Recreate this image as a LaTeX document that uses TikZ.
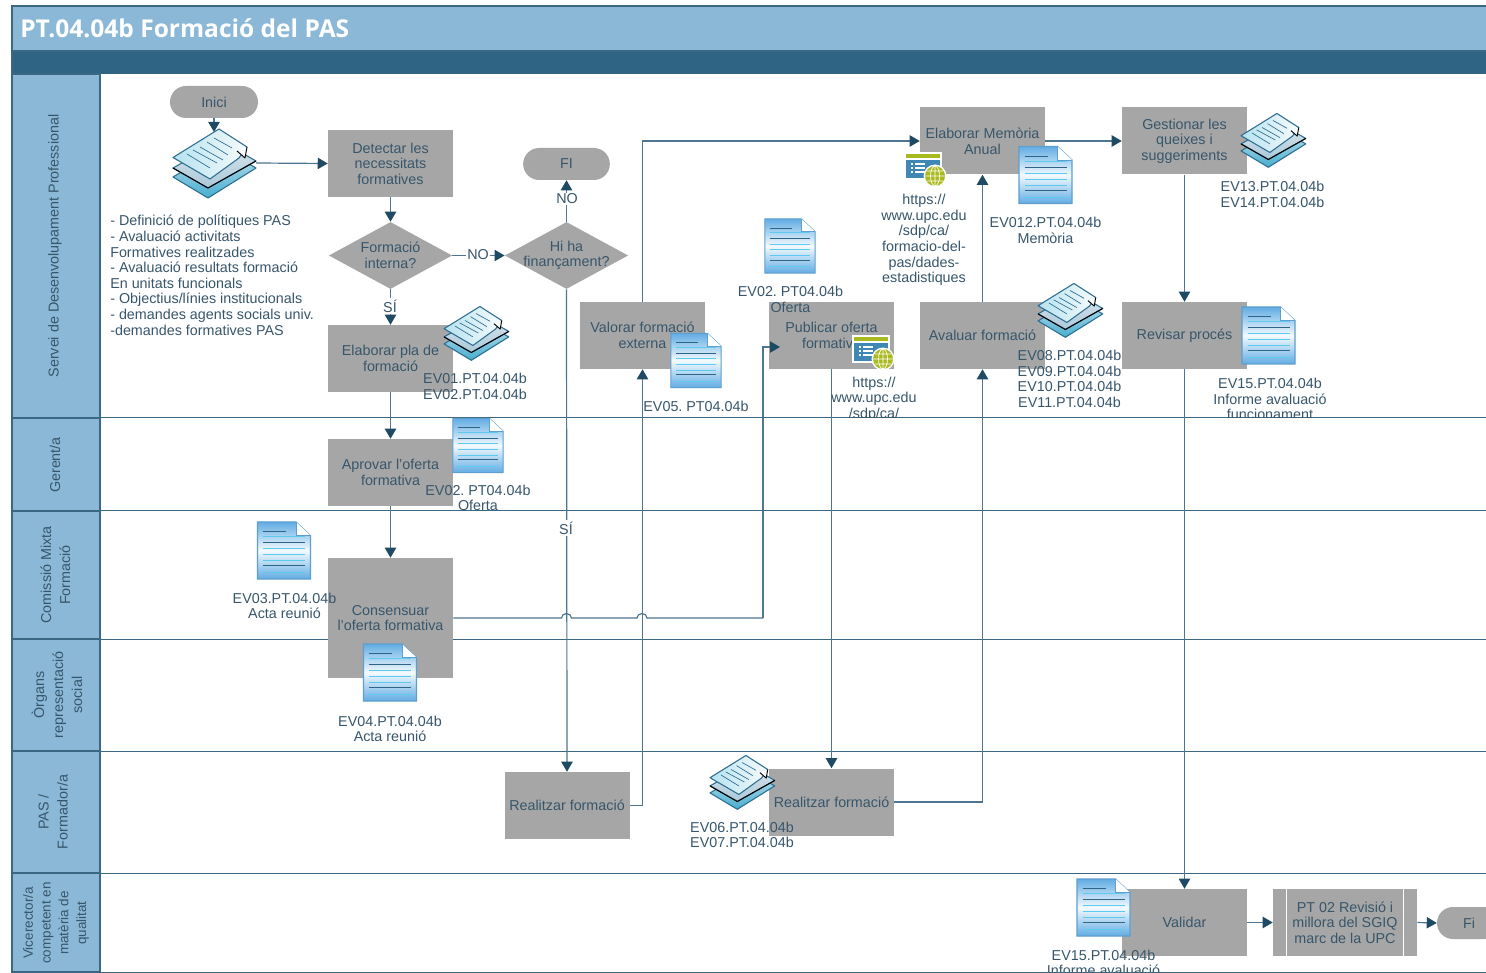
\documentclass[tikz,border=0pt]{standalone}
\usepackage{fontspec}
\setmainfont{Liberation Sans}
\newfontfamily\titlefont{Open Sans}
\usetikzlibrary{arrows.meta,shapes.geometric,calc}
\definecolor{hdr}{HTML}{8AB8D6}
\definecolor{band}{HTML}{2F6484}
\definecolor{lanel}{HTML}{3A6882}
\definecolor{boxc}{HTML}{A6A6A6}
\definecolor{txt}{HTML}{37566B}
\definecolor{conc}{HTML}{4F7690}
\definecolor{tip}{HTML}{1F4A63}
\definecolor{icol}{HTML}{2E6E92}
\definecolor{docedge}{HTML}{5E9FCF}
\definecolor{docblue}{HTML}{62ACE4}
\definecolor{docmid}{HTML}{F4FAFD}
\definecolor{doccy}{HTML}{5CCBEF}
\definecolor{webol}{HTML}{A9BA1E}
\definecolor{webbl}{HTML}{3F87B5}
\definecolor{stka}{HTML}{C8E3EE}
\definecolor{stkb}{HTML}{46AECF}
\definecolor{stkc}{HTML}{DDE6EB}
\definecolor{stkd}{HTML}{A9C9DA}
\definecolor{stke}{HTML}{B5E2EF}
\definecolor{stkf}{HTML}{F7FBFC}
\tikzset{
  x=0.75pt,y=-0.75pt,
  every node/.style={font=\frenchspacing\fontsize{10.75}{11.7}\selectfont,text=txt,align=center,inner sep=0pt},
  lanehead/.style={fill=hdr,draw=lanel,line width=0.8pt},
  lanetext/.style={rotate=90,anchor=center,font=\fontsize{10.75}{14.25}\selectfont},
  proc/.style={fill=boxc,minimum width=93.75pt,minimum height=50.25pt},
  term/.style={fill=boxc,rounded corners=12pt,minimum height=24pt},
  dec/.style={diamond,fill=boxc,shape aspect=1.84,minimum width=92.5pt,minimum height=50.25pt,inner sep=-1pt},
  conn/.style={draw=conc,line width=0.9pt,-{Triangle[length=7.5pt,width=8.5pt,color=tip]}},
  plainconn/.style={draw=conc,line width=0.9pt},
  onwhite/.style={fill=white,inner sep=1pt},
  stackdoc/.pic={
    \draw[icol,line width=0.8pt,top color=stka,bottom color=stkb,line join=round] (-41,14)--(7,-15)--(42,5)--(-6,35)--cycle;
    \draw[icol,line width=0.8pt,top color=stkc,bottom color=stkd,line join=round] (-41,5)--(7,-22)--(42,-2)--(-6,25)--cycle;
    \draw[black,line width=0.8pt] (-41,5)--(-6,25)--(42,-2);
    \draw[icol,line width=0.8pt,left color=stke,right color=stkf,line join=round] (-41,-5.5)--(5,-34)--(33,-16)--(25,-5)--(-4,16)--cycle;
    \draw[black,line width=0.7pt,fill=stkf,line join=round] (33,-16)--(31,-5)--(23,-12);
    \draw[icol,line width=0.5pt] (-27,-9)--(-4,5) (-21,-13)--(3,0) (-14,-16)--(9,-3) (-7,-21)--(14,-8) (0,-25)--(18,-15);
  },
  singledoc/.pic={
    \draw[docedge,line width=0.8pt,top color=docblue,bottom color=docblue,middle color=docmid] (-26.5,-28.5)--(12,-28.5)--(26.5,-15)--(26.5,28.5)--(-26.5,28.5)--cycle;
    \fill[white] (12,-28.5)--(26.5,-15)--(12,-15)--cycle;
    \draw[docedge,line width=0.5pt] (12,-28.5)--(12,-15)--(26.5,-15);
    \draw[band,line width=0.45pt] (-21,-19)--(2,-19) (-21,-8)--(21,-8);
    \draw[doccy,line width=0.6pt] (-21,-14)--(21,-14) (-21,-2)--(21,-2) (-21,4)--(21,4) (-21,10)--(21,10) (-21,22)--(21,22);
    \draw[band,line width=0.45pt] (-21,15)--(21,15);
  },
  webicon/.pic={
    \fill[white] (-1,-1) rectangle (37,27);
    \fill[webol] (1,1) rectangle (35,5);
    \fill[webbl] (1,7) rectangle (35,25);
    \draw[white,line width=0.9pt] (6,11)--(8,11) (10,11)--(20,11) (6,15)--(8,15) (10,15)--(20,15) (6,19)--(8,19) (10,19)--(20,19);
    \fill[white] (30,23) circle (11.5);
    \fill[webol] (30,23) circle (10);
    \draw[white,line width=0.5pt] (30,23) ellipse (4.5 and 10) (20,23)--(40,23) (30,13)--(30,33) (22,18)--(38,18) (22,28)--(38,28);
  }
}
\begin{document}
\begin{tikzpicture}
\useasboundingbox (0,0) rectangle (1486,973);
\clip (0,0) rectangle (1486,973);
\fill[white] (0,0) rectangle (1486,973);
% header
\fill[hdr] (12,6) rectangle (1486,51);
\fill[band] (12,51) rectangle (1486,74);
\draw[lanel,line width=0.8pt] (1486,6)--(12,6)--(12,74);
\draw[lanel,line width=0.8pt] (12,51)--(1486,51);
\node[anchor=west,text=white,font=\titlefont\bfseries\fontsize{18.4}{20}\selectfont] (title) at (20,28) {PT.04.04b Formació del PAS};
% lanes
\foreach \ya/\yb in {74/418,418/511,511/639,639/751,751/873,873/972}{
  \path[lanehead] (12,\ya) rectangle (100,\yb);
  \draw[lanel,line width=0.75pt] (100,\yb)--(1486,\yb);
}
\node[lanetext] (l1) at (55,246) {Servei de Desenvolupament Professional};
\node[lanetext] (l2) at (55,465) {Gerent/a};
\node[lanetext] (l3) at (55.5,575) {Comissió Mixta\\Formació};
\node[lanetext] (l4) at (57,695) {Òrgans\\representació\\social};
\node[lanetext] (l5) at (53,812) {PAS /\\Formador/a};
\node[lanetext,font=\fontsize{10.1}{13.3}\selectfont] (l6) at (56,923) {Vicerector/a\\competent en\\matèria de\\qualitat};
% process nodes
\node[term,minimum width=66pt] (ini) at (214,102) {Inici};
\node[proc] (det) at (390.5,163.5) {Detectar les\\necessitats\\formatives};
\node[dec] (fint) at (390.5,255.5) {Formació\\interna?};
\node[dec,inner xsep=-8.5pt,inner ysep=-1pt] (fin) at (566.5,255.5) {Hi ha\\finançament?};
\node[term,minimum width=65pt] (fi) at (566.5,164) {FI};
\node[proc] (ela) at (390.5,358.5) {Elaborar pla de\\formació};
\node[proc] (apr) at (390.5,472.5) {Aprovar l'oferta\\formativa};
\node[proc,minimum height=90pt] (con) at (390.5,618) {Consensuar\\l'oferta formativa};
\node[proc] (val) at (642.5,335.5) {Valorar formació\\externa};
\node[proc] (pub) at (831.5,335.5) {Publicar oferta\\formativa};
\node[proc] (ava) at (982.5,335.5) {Avaluar formació};
\node[proc] (mem) at (982.5,141) {Elaborar Memòria\\Anual};
\node[proc] (ges) at (1184.5,141) {Gestionar les\\queixes i\\suggeriments};
\node[proc] (rev) at (1184.5,335.5) {Revisar procés};
\node[proc] (rea) at (567,805.5) {Realitzar formació};
\node[proc] (reb) at (831.5,802) {Realitzar formació};
\node[proc] (vali) at (1184.5,922.5) {Validar};
\node[proc,minimum width=108pt] (pt) at (1345,922.5) {PT 02 Revisió i\\millora del SGIQ\\marc de la UPC};
\draw[white,line width=0.8pt] ($(pt.north west)+(14,0)$)--($(pt.south west)+(14,0)$) ($(pt.north east)+(-14,0)$)--($(pt.south east)+(-14,0)$);
\node[term,minimum width=48pt] (fiend) at (1469,923) {Fi};
% named free ends
\coordinate (stA) at (214,163);
\coordinate (stAt) at (214,132);
\coordinate (stAr) at (256,163);
\coordinate (j1a) at (561.5,618);
\coordinate (j2a) at (637,618);
\coordinate (c1) at (763,618);
\coordinate (c2) at (763,347);
\coordinate (c3) at (780,347);
% connectors
\draw[conn] (ini.south) -- (stAt);
\draw[conn] (stAr) -- (det.west);
\draw[conn] (det.south) -- (fint.north);
\draw[conn] (fint.east) -- (fin.west);
\draw[conn] (fint.south) -- (ela.north);
\draw[conn] (fin.north) -- (fi.south);
\draw[conn] (fin.south) -- (rea.north);
\draw[conn] (ela.south) -- (apr.north);
\draw[conn] (apr.south) -- (con.north);
\draw[plainconn,fill=none] (con.east) -- (j1a) arc[start angle=180,end angle=0,x radius=5,y radius=-4.5] -- (j2a) arc[start angle=180,end angle=0,x radius=5,y radius=-4.5] -- (c1);
\draw[conn] (c1) -- (c2) -- (c3);
\draw[conn] (rea.east) -| (val.south);
\draw[conn] (val.north) |- (mem.west);
\draw[conn] (pub.south) -- (reb.north);
\draw[conn] (reb.east) -| (ava.south);
\draw[conn] (ava.north) -- (mem.south);
\draw[conn] (mem.east) -- (ges.west);
\draw[conn] (ges.south) -- (rev.north);
\draw[conn] (rev.south) -- (vali.north);
\draw[conn] (vali.east) -- (pt.west);
\draw[conn] (pt.east) -- (fiend.west);
% edge labels
\node[onwhite] (noa) at (478,255) {NO};
\node[onwhite] (sia) at (390,306) {SÍ};
\node[onwhite] (nob) at (567,199) {NO};
\node[onwhite] (sib) at (566,528) {SÍ};
% icons
\pic at (stA) {stackdoc};
\pic[scale=0.78] at (476,333) {stackdoc};
\pic[scale=0.78] at (1273,140) {stackdoc};
\pic[scale=0.78] at (1070,310) {stackdoc};
\pic[scale=0.78] at (742,782) {stackdoc};
\pic[scale=0.95] at (696,360.5) {singledoc};
\pic at (1045.5,175) {singledoc};
\pic[scale=0.95] at (790,246) {singledoc};
\pic at (1268.5,335.5) {singledoc};
\pic[scale=0.95] at (478,445.5) {singledoc};
\pic at (284,550.5) {singledoc};
\pic at (390,672.5) {singledoc};
\pic at (1103.5,907.5) {singledoc};
\pic at (905,153) {webicon};
\pic at (853,336) {webicon};
% document labels
\node[align=left,anchor=north west] (inp) at (110,215) {- Definició de polítiques PAS\\- Avaluació activitats\\Formatives realitzades\\- Avaluació resultats formació\\En unitats funcionals\\- Objectius/línies institucionals\\- demandes agents socials univ.\\-demandes formatives PAS};
\node (d1) at (475,386.5) {EV01.PT.04.04b\\EV02.PT.04.04b};
\node (d2) at (696,406) {EV05. PT04.04b};
\node (d3) at (790.5,299.5) {EV02. PT04.04b\\Oferta};
\node (d4) at (924,240) {https://\\www.upc.edu\\/sdp/ca/\\formacio-del-\\pas/dades-\\estadistiques};
\node (d5) at (1045.5,230.5) {EV012.PT.04.04b\\Memòria};
\node (d6) at (1272.5,194.5) {EV13.PT.04.04b\\EV14.PT.04.04b};
\node (d7) at (1069.5,379) {EV08.PT.04.04b\\EV09.PT.04.04b\\EV10.PT.04.04b\\EV11.PT.04.04b};
\node (d9) at (478,498) {EV02. PT04.04b\\Oferta};
\node (d10) at (284.5,606) {EV03.PT.04.04b\\Acta reunió};
\node (d11) at (390,729) {EV04.PT.04.04b\\Acta reunió};
\node (d12) at (742,835) {EV06.PT.04.04b\\EV07.PT.04.04b};
\begin{scope}
\clip (700,372) rectangle (1486,418);
\node (d8) at (874,399) {https://\\www.upc.edu\\/sdp/ca/};
\node (d13) at (1270,399) {EV15.PT.04.04b\\Informe avaluació\\funcionament};
\end{scope}
\begin{scope}
\clip (1000,940) rectangle (1300,971);
\node[anchor=north] (d14) at (1103.5,949.5) {EV15.PT.04.04b\\Informe avaluació};
\end{scope}
\end{tikzpicture}
\end{document}
